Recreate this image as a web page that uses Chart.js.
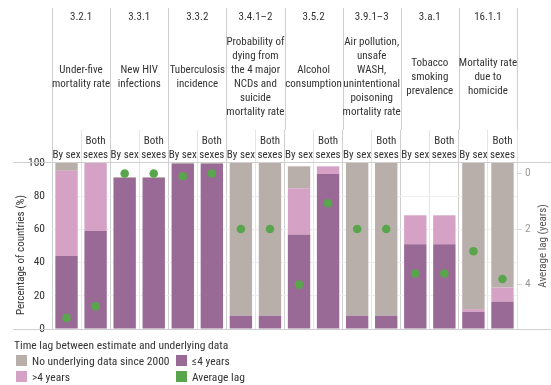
<!DOCTYPE html>
<html>
<head>
<meta charset="utf-8">
<script src="https://cdn.jsdelivr.net/npm/chart.js@4/dist/chart.umd.min.js"></script>
<style>
  body { margin: 0; background: #fff; }
  #wrap { position: relative; width: 551px; height: 385px; }
  #legend {
    position: absolute; left: 14px; top: 338px;
    font-family: "Roboto Condensed", sans-serif;
    font-size: 11.5px; color: #333; white-space: nowrap;
  }
  #legend .items { display: grid; grid-template-columns: 160px 160px; row-gap: 3px; margin-top: 2px; }
  #legend .item { display: flex; align-items: center; height: 13px; }
  #legend .box { width: 11px; height: 11px; margin: 0 5px 0 2px; }
</style>
</head>
<body>
<div id="wrap">
  <canvas id="lagChart"></canvas>
  <div id="legend"></div>
</div>
<script>
// indicator groups (two bars each)
const codes = ['3.2.1', '3.3.1', '3.3.2', '3.4.1\u20132', '3.5.2', '3.9.1\u20133', '3.a.1', '16.1.1'];
const descriptions = [
    ['Under-five', 'mortality rate'],
    ['New HIV', 'infections'],
    ['Tuberculosis', 'incidence'],
    ['Probability of', 'dying from', 'the 4 major', 'NCDs and', 'suicide', 'mortality rate'],
    ['Alcohol', 'consumption'],
    ['Air pollution,', 'unsafe', 'WASH,', 'unintentional', 'poisoning', 'mortality rate'],
    ['Tobacco', 'smoking', 'prevalence'],
    ['Mortality rate', 'due to', 'homicide']
];

// one bar per category
const barLabels = [];
for (let i = 0; i < codes.length; i++) {
    barLabels.push('By sex');
    barLabels.push(['Both', 'sexes']);
}

// percentage of countries
const upTo4Years = [44, 59, 91, 91, 99.5, 99.5, 8, 8, 57, 93.3, 8, 8, 51, 51, 10.3, 16.5];
const over4Years = [51.3, 41, 0, 0, 0, 0, 0, 0, 27.8, 4.7, 0, 0, 17.5, 17.5, 1.7, 8.5];
const noData = [4.7, 0, 0.6, 0.6, 0.5, 0.5, 92, 92, 13.2, 0, 92, 92, 0, 0, 88, 75];
// average lag (years)
const averageLag = [5.2, 4.78, 0, 0, 0.1, 0, 2, 2, 4, 1.07, 2, 2, 3.6, 3.6, 2.8, 3.8];
const lagTicks = [0, 2, 4];

const colGrey = '#b9afaa';
const colPink = '#d5a2c6';
const colPurple = '#9a6a96';
const colGreen = '#58a54b';
const fontFamily = '"Roboto Condensed", sans-serif';
const lineGrey = '#cfcfcf';

// header, extra lines and rotated axis titles
const headerPlugin = {
    id: 'header',
    afterDatasetsDraw (chart) {
        const ctx = chart.ctx;
        const area = chart.chartArea;
        const x = chart.scales.x;
        ctx.save();
        ctx.strokeStyle = lineGrey;
        ctx.lineWidth = 1;
        // horizontal rules
        ctx.beginPath();
        ctx.moveTo(13, Math.round(area.top) - 0.5);
        ctx.lineTo(551, Math.round(area.top) - 0.5);
        ctx.moveTo(13, Math.round(area.bottom) + 0.5);
        ctx.lineTo(551, Math.round(area.bottom) + 0.5);
        // group separators up to the top
        const step = (area.right - area.left) / barLabels.length;
        for (let g = 0; g <= codes.length; g++) {
            const gx = Math.round(area.left + g * 2 * step) + 0.5;
            ctx.moveTo(gx, 8);
            ctx.lineTo(gx, area.top - 33);
        }
        ctx.stroke();

        ctx.fillStyle = '#333';
        ctx.font = '11px ' + fontFamily;
        ctx.textAlign = 'center';
        ctx.textBaseline = 'middle';
        for (let g = 0; g < codes.length; g++) {
            const cx = (x.getPixelForValue(2 * g) + x.getPixelForValue(2 * g + 1)) / 2;
            ctx.fillText(codes[g], cx, 17);
            const lines = descriptions[g];
            const y0 = 77 - (lines.length - 1) * 14 / 2;
            lines.forEach(function (line, i) {
                ctx.fillText(line, cx, y0 + i * 14);
            });
        }

        // axis titles, both reading bottom to top
        ctx.save();
        ctx.translate(21, 255);
        ctx.rotate(-Math.PI / 2);
        ctx.fillText('Percentage of countries (%)', 0, 0);
        ctx.restore();
        ctx.save();
        ctx.fillStyle = '#555';
        ctx.translate(543, 246);
        ctx.rotate(-Math.PI / 2);
        ctx.fillText('Average lag (years)', 0, 0);
        ctx.restore();
        ctx.restore();
    }
};

const data = {
    labels: barLabels,
    datasets: [
        {
            type: 'line',
            label: 'Average lag',
            data: averageLag,
            yAxisID: 'yLag',
            showLine: false,
            pointRadius: 4.3,
            pointHoverRadius: 4.3,
            pointBackgroundColor: colGreen,
            pointBorderWidth: 0,
            backgroundColor: colGreen,
            order: 0
        },
        {
            label: '\u22644 years',
            data: upTo4Years,
            backgroundColor: colPurple,
            yAxisID: 'y',
            order: 1
        },
        {
            label: '>4 years',
            data: over4Years,
            backgroundColor: colPink,
            yAxisID: 'y',
            order: 1
        },
        {
            label: 'No underlying data since 2000',
            data: noData,
            backgroundColor: colGrey,
            yAxisID: 'y',
            order: 1
        }
    ]
};

const config = {
    type: 'bar',
    data: data,
    options: {
        responsive: true,
        maintainAspectRatio: false,
        animation: false,
        layout: { padding: { top: 0, left: 0, right: 0, bottom: 56 } },
        datasets: {
            bar: { barPercentage: 0.77, categoryPercentage: 1 }
        },
        plugins: {
            legend: { display: false },
            tooltip: { enabled: false }
        },
        scales: {
            x: {
                position: 'top',
                stacked: true,
                offset: true,
                grid: {
                    offset: true,
                    drawTicks: true,
                    tickLength: 33,
                    color: function (c) { return c.index % 2 === 0 ? lineGrey : '#e4e4e4'; }
                },
                border: { display: false },
                ticks: {
                    padding: -32,
                    maxRotation: 0,
                    autoSkip: false,
                    color: '#333',
                    font: { family: fontFamily, size: 11, lineHeight: '14px' }
                },
                afterFit: function (scale) { scale.height = 163; }
            },
            y: {
                position: 'left',
                stacked: true,
                min: 0,
                max: 100,
                grid: {
                    drawTicks: false,
                    color: function (c) {
                        return (c.tick.value === 0 || c.tick.value === 100) ? 'rgba(0,0,0,0)' : '#efefef';
                    }
                },
                border: { display: false },
                ticks: {
                    stepSize: 20,
                    padding: 7,
                    color: '#333',
                    font: { family: fontFamily, size: 11.5 }
                },
                afterFit: function (scale) { scale.width = 52; }
            },
            yLag: {
                position: 'right',
                reverse: true,
                min: -0.38,
                max: 5.6,
                grid: { drawOnChartArea: false, tickLength: 5, color: '#d6d6d6' },
                border: { display: false },
                afterBuildTicks: function (scale) {
                    scale.ticks = lagTicks.map(function (v) { return { value: v }; });
                },
                ticks: {
                    padding: 3,
                    color: '#9a9a9a',
                    font: { family: fontFamily, size: 11.5 }
                },
                afterFit: function (scale) { scale.width = 34; }
            }
        }
    },
    plugins: [headerPlugin]
};

const lagChart = new Chart(document.getElementById('lagChart'), config);

// legend built from the dataset labels and colours
const legendEl = document.getElementById('legend');
const legendOrder = [3, 1, 2, 0];
let html = '<div>Time lag between estimate and underlying data</div><div class="items">';
legendOrder.forEach(function (i) {
    const ds = data.datasets[i];
    html += '<div class="item"><span class="box" style="background:' + ds.backgroundColor + '"></span>' +
        ds.label.replace('>', '&gt;') + '</div>';
});
html += '</div>';
legendEl.innerHTML = html;
</script>
</body>
</html>
